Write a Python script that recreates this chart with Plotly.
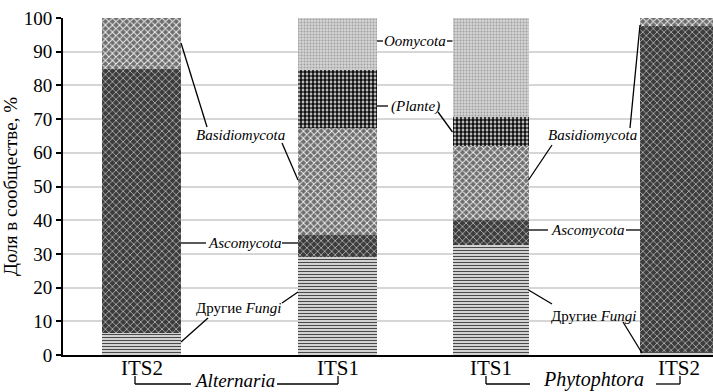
import plotly.graph_objects as go

# ---------------- data ----------------
categories = ["ITS2", "ITS1", "ITS1", "ITS2"]
groups = ["Alternaria", "Phytophtora"]
other_fungi = [6.5, 29.0, 32.5, 0.8]
ascomycota = [78.5, 6.5, 7.5, 96.7]
basidiomycota = [15.0, 32.0, 22.0, 2.5]
plante = [0.0, 17.0, 8.5, 0.0]
oomycota = [0.0, 15.5, 29.5, 0.0]
y_ticks = [0, 10, 20, 30, 40, 50, 60, 70, 80, 90, 100]

# ---------------- layout constants ----------------
W, H = 713, 392
L, R, T, B = 63, 0, 18, 37
X_POS = [141.5, 337.5, 490.5, 679.0]     # x axis is in pixel-like units
BAR_W = [79, 79, 76, 78]
SERIF = "Liberation Serif, Times New Roman, serif"

def edge(i, side):
    return X_POS[i] + side * BAR_W[i] / 2

series = [
    ("Другие Fungi", other_fungi, dict(shape="-", fgcolor="#4a4a4a", bgcolor="#ffffff", size=3, solidity=0.5)),
    ("Ascomycota", ascomycota, dict(shape="x", fgcolor="#cfcfcf", bgcolor="#3c3c3c", size=5, solidity=0.25)),
    ("Basidiomycota", basidiomycota, dict(shape="x", fgcolor="#f0f0f0", bgcolor="#6e6e6e", size=5, solidity=0.35)),
    ("(Plante)", plante, dict(shape=".", fgcolor="#111111", bgcolor="#ffffff", size=4, solidity=0.7)),
    ("Oomycota", oomycota, dict(shape=".", fgcolor="#a0a0a0", bgcolor="#d4d4d4", size=3, solidity=0.35)),
]

fig = go.Figure()
for name, vals, pat in series:
    fig.add_trace(go.Bar(
        x=X_POS, y=vals, width=BAR_W, name=name,
        marker=dict(color=pat["bgcolor"], line=dict(width=0),
                    pattern=dict(shape=pat["shape"], fgcolor=pat["fgcolor"],
                                 bgcolor=pat["bgcolor"], size=pat["size"],
                                 solidity=pat["solidity"], fillmode="replace")),
        showlegend=False, hoverinfo="skip",
    ))

def v(py):
    """pixel row -> value on the y axis"""
    return (H - B - py) / ((H - B - T) / 100.0)

def py2paper(py):
    return (H - B - py) / (H - B - T)

def px2paper(px):
    return (px - L) / (W - L - R)

shapes = []
def seg(x0, y0, x1, y1, ref="data", w=1.3):
    if ref == "data":
        shapes.append(dict(type="line", xref="x", yref="y", x0=x0, y0=y0, x1=x1, y1=y1,
                           line=dict(color="black", width=w)))
    else:
        shapes.append(dict(type="line", xref="paper", yref="paper",
                           x0=px2paper(x0), x1=px2paper(x1),
                           y0=py2paper(y0), y1=py2paper(y1),
                           line=dict(color="black", width=w)))

annotations = []
def label(text, x, y, size=15):
    annotations.append(dict(text=text, x=x, y=y, xref="x", yref="y", showarrow=False,
                            font=dict(family=SERIF, size=size, color="black"),
                            xanchor="center", yanchor="middle"))

# category labels under the axis
for xc, cat in zip(X_POS, categories):
    annotations.append(dict(text=cat, x=px2paper(xc), y=py2paper(368), xref="paper", yref="paper",
                            showarrow=False, xanchor="center", yanchor="middle",
                            font=dict(family=SERIF, size=21, color="black")))

# left gap labels (between bar 1 and 2)
label("<i>Basidiomycota</i>", 240, v(135))
seg(edge(0, 1), v(43), 207, v(127))
seg(282, v(143), edge(1, -1), v(180))
label("<i>Ascomycota</i>", 244, v(243))
seg(edge(0, 1), v(243), 206, v(243))
seg(282, v(243), edge(1, -1), v(243))
label("Другие <i>Fungi</i>", 238, v(308))
seg(edge(0, 1), v(342), 208, v(318))
seg(282, v(303), edge(1, -1), v(292))

# middle gap labels (between bar 2 and 3)
label("<i>Oomycota</i>", 415, v(41))
seg(edge(1, 1), v(41), 383, v(41))
seg(447, v(41), edge(2, -1), v(41))
label("<i>(Plante)</i>", 415, v(106))
seg(edge(1, 1), v(106), 388, v(106))
seg(438, v(112), edge(2, -1), v(132))

# right gap labels (between bar 3 and 4)
label("<i>Basidiomycota</i>", 592, v(135))
seg(552, v(145), edge(2, 1), v(180))
seg(630, v(128), edge(3, -1), v(25))
label("<i>Ascomycota</i>", 587, v(230))
seg(edge(2, 1), v(230), 548, v(230))
seg(626, v(230), edge(3, -1), v(230))
label("Другие <i>Fungi</i>", 593, v(316))
seg(edge(2, 1), v(290), 552, v(304))
seg(623, v(322), edge(3, -1) + 2, v(353))

# group brackets under the axis
BR_Y = 384
def group_label(text, xa, xb, t0, t1, xc, size):
    seg(xa, 376, xa, BR_Y, ref="paper")
    seg(xa, BR_Y, t0, BR_Y, ref="paper")
    seg(t1, BR_Y, xb, BR_Y, ref="paper")
    seg(xb, BR_Y, xb, 376, ref="paper")
    annotations.append(dict(text="<i>" + text + "</i>", x=px2paper(xc),
                            y=py2paper(H), xref="paper", yref="paper",
                            showarrow=False, xanchor="center", yanchor="bottom", borderpad=0,
                            font=dict(family=SERIF, size=size, color="black")))

group_label(groups[0], 135, 338, 191, 277, 234, 19)
group_label(groups[1], 486, 680, 530, 656, 593, 20)

fig.update_layout(
    barmode="stack", bargap=0,
    width=W, height=H,
    margin=dict(l=L, r=R, t=T, b=B, pad=0),
    plot_bgcolor="white", paper_bgcolor="white",
    font=dict(family=SERIF, color="black"),
    shapes=shapes, annotations=annotations,
    xaxis=dict(range=[L, W - R], showticklabels=False, automargin=False,
               showgrid=False, zeroline=False, showline=True, linecolor="black",
               linewidth=2, ticks=""),
    yaxis=dict(range=[0, 100], tickvals=y_ticks, showgrid=True, gridcolor="#d6d6d6",
               gridwidth=1.5, zeroline=False, showline=True, linecolor="black", automargin=False,
               linewidth=2, ticks="outside", ticklen=5, tickwidth=2, tickcolor="black",
               tickfont=dict(family=SERIF, size=19, color="black"),
               title=dict(text="Доля в сообществе, %", standoff=4,
                          font=dict(family=SERIF, size=19, color="black"))),
)

fig.write_html("out.html", config={"displayModeBar": False},
               post_script="document.body.style.margin='0';document.body.style.overflow='hidden';")
